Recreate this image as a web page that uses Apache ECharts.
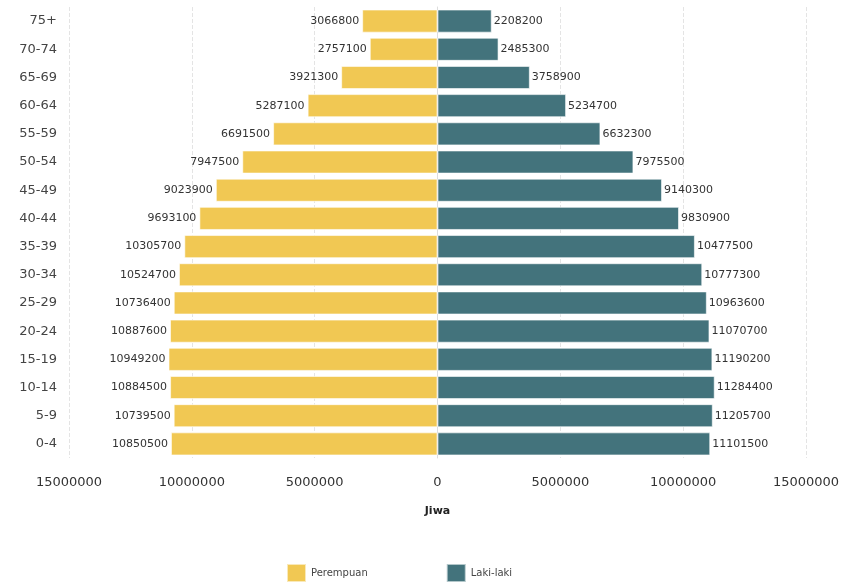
<!DOCTYPE html>
<html><head><meta charset="utf-8">
<script src="https://cdn.jsdelivr.net/npm/echarts@6/dist/echarts.min.js"></script>
<style>html,body{margin:0;padding:0;background:#fff}#c{width:843px;height:582px}</style>
</head><body><div id="c"></div>
<script>
const ageGroups = ['0-4','5-9','10-14','15-19','20-24','25-29','30-34','35-39','40-44','45-49','50-54','55-59','60-64','65-69','70-74','75+'];
const perempuan = [10850500,10739500,10884500,10949200,10887600,10736400,10524700,10305700,9693100,9023900,7947500,6691500,5287100,3921300,2757100,3066800];
const lakiLaki = [11101500,11205700,11284400,11190200,11070700,10963600,10777300,10477500,9830900,9140300,7975500,6632300,5234700,3758900,2485300,2208200];
const xTicks = {min:-15000000, max:15000000, interval:5000000};

const font = 'DejaVu Sans, Verdana, sans-serif';
const chart = echarts.init(document.getElementById('c'));
chart.setOption({
  animation:false,
  textStyle:{fontFamily:font},
  grid:{left:69, right:37, top:7, bottom:124, containLabel:false},
  legend:{bottom:-6, left:281, itemWidth:19, itemHeight:18, itemGap:78,
    textStyle:{fontSize:10, color:'#444', fontFamily:font}, icon:'rect',
    data:['Perempuan','Laki-laki']},
  xAxis:{type:'value', min:xTicks.min, max:xTicks.max, interval:xTicks.interval,
    name:'Jiwa', nameLocation:'middle', nameGap:48,
    nameTextStyle:{fontWeight:'bold', fontSize:11, color:'#222'},
    axisLine:{show:false}, axisTick:{show:false},
    axisLabel:{fontSize:13, color:'#333', margin:18, formatter:v=>String(Math.abs(v))},
    splitLine:{show:true, lineStyle:{type:'dashed', color:'#e4e4e4'}}},
  yAxis:{type:'category', data:ageGroups,
    axisLine:{show:true, lineStyle:{color:'#ddd'}},
    axisTick:{show:true, length:6, alignWithLabel:true, lineStyle:{color:'#ddd'}},
    axisLabel:{fontSize:13, color:'#444', margin:12}},
  series:[
    {name:'Perempuan', type:'bar', data:perempuan.map(v=>-v), barWidth:'82%', barGap:'-100%',
      itemStyle:{color:'#F1C853', borderColor:'rgba(255,255,255,0.6)', borderWidth:1},
      label:{show:true, position:'left', distance:3, fontSize:11, color:'#333', formatter:p=>String(Math.abs(p.value))}},
    {name:'Laki-laki', type:'bar', data:lakiLaki, barWidth:'82%', barGap:'-100%',
      itemStyle:{color:'#43737C', borderColor:'rgba(255,255,255,0.6)', borderWidth:1},
      label:{show:true, position:'right', distance:2, fontSize:11, color:'#333', formatter:p=>String(p.value)}}
  ]
});
</script></body></html>
